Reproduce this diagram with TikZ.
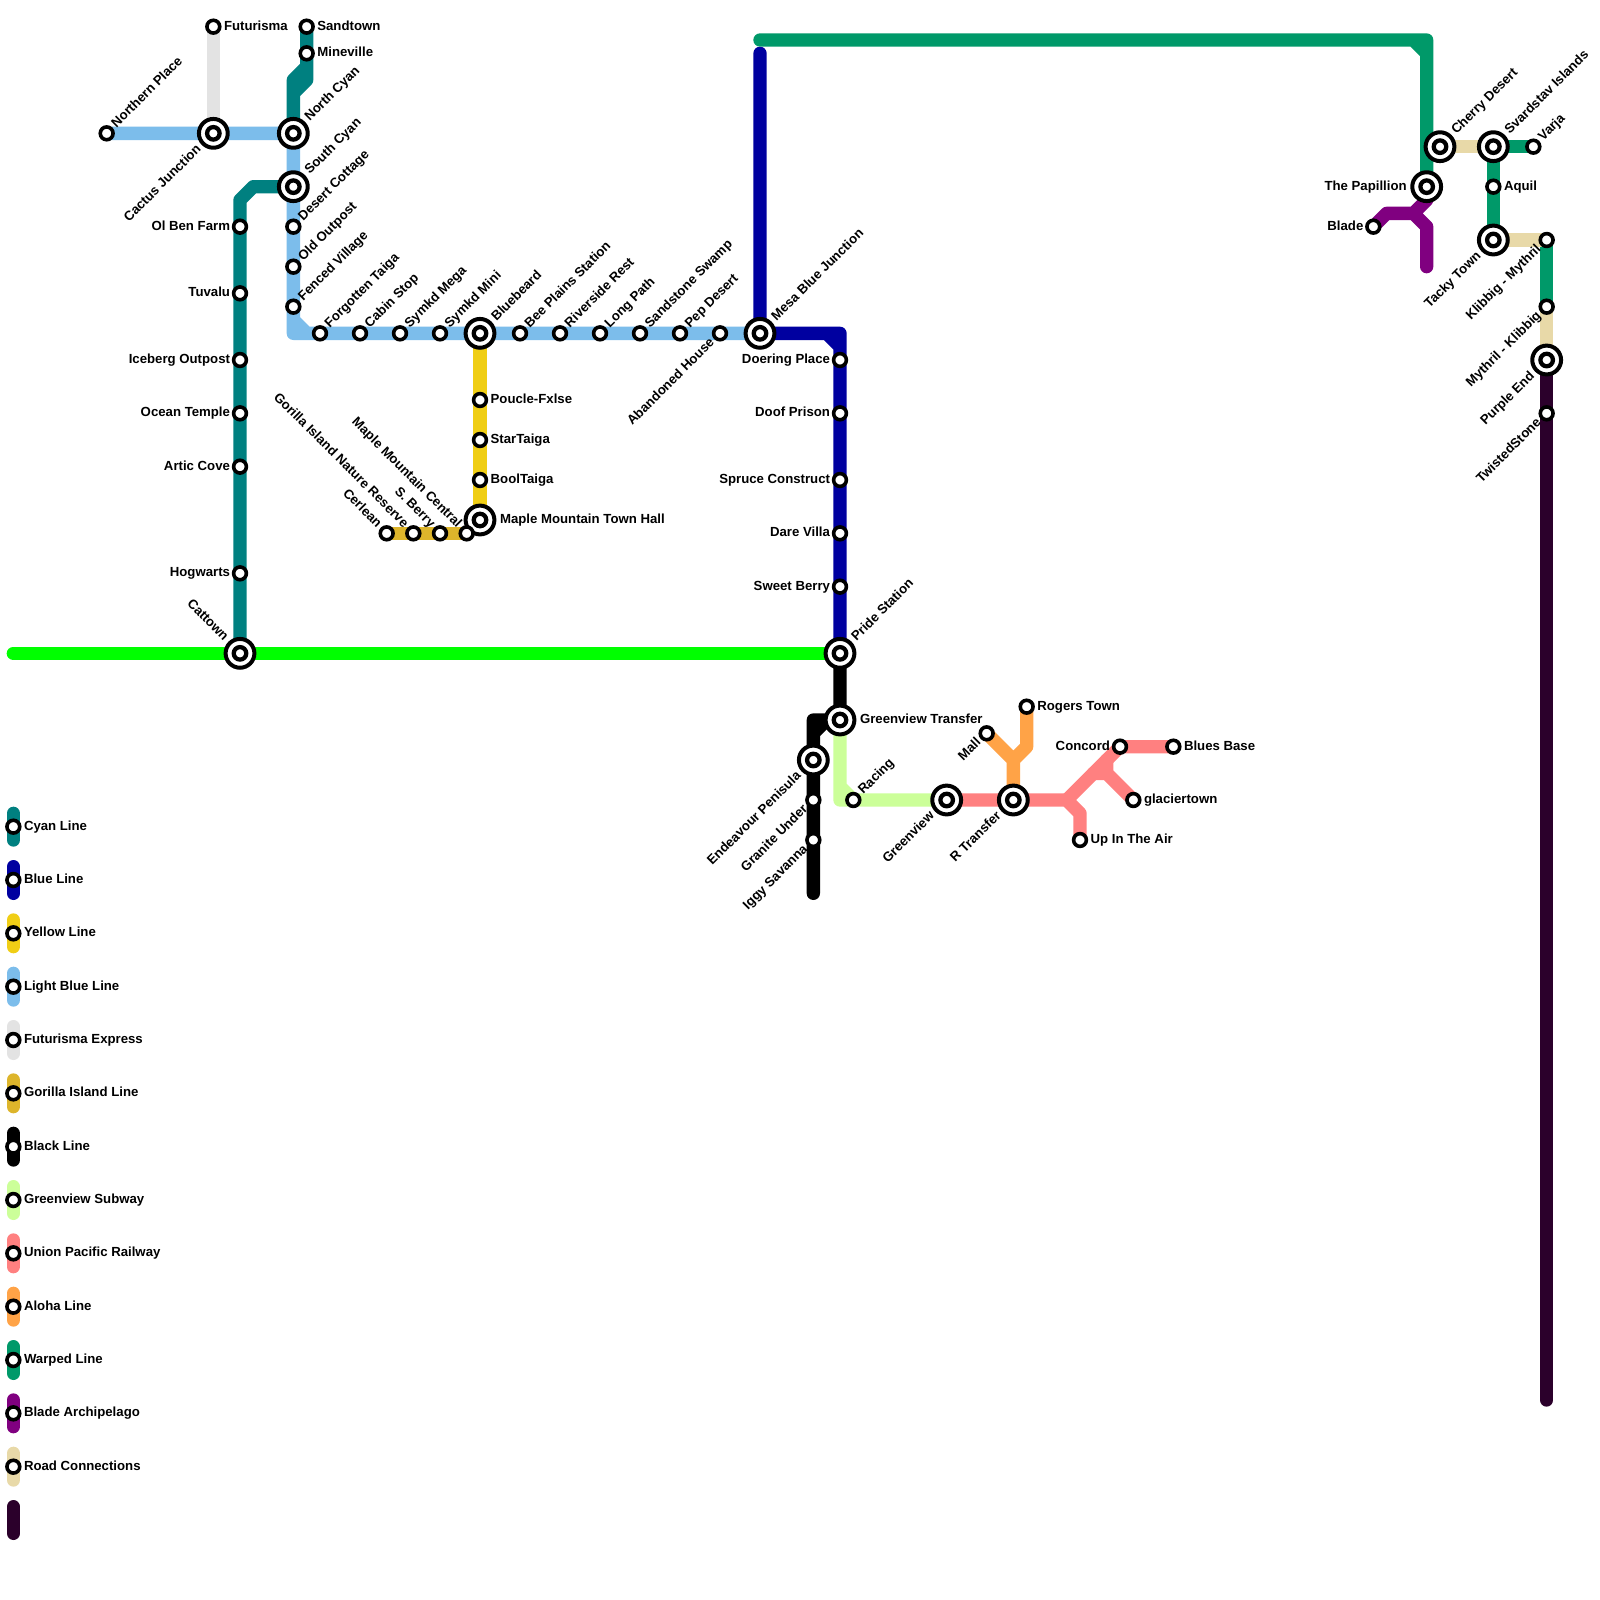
\documentclass[tikz,border=0pt]{standalone}
\usepackage{fontspec}
\setmainfont{Liberation Sans}
\usetikzlibrary{backgrounds}
\definecolor{cCyan}{HTML}{008080}
\definecolor{cBlue}{HTML}{0000A0}
\definecolor{cYellow}{HTML}{F0CE15}
\definecolor{cLight}{HTML}{7CBDEB}
\definecolor{cGrey}{HTML}{E3E3E3}
\definecolor{cGorilla}{HTML}{DDB52B}
\definecolor{cBlack}{HTML}{000000}
\definecolor{cSub}{HTML}{CCFF99}
\definecolor{cPink}{HTML}{FF8080}
\definecolor{cOrange}{HTML}{FFA347}
\definecolor{cWarp}{HTML}{009969}
\definecolor{cBlade}{HTML}{800080}
\definecolor{cRoad}{HTML}{E8D9A8}
\definecolor{cDark}{HTML}{2B002B}
\definecolor{cLime}{HTML}{00FF00}
\tikzset{
  ln/.style={line width=10pt,line cap=round,line join=round},
  smallst/.style={circle,draw=black,fill=white,line width=2.7pt,minimum size=9.6pt,inner sep=0pt},
  bigst/.style={circle,draw=black,fill=white,line width=3pt,minimum size=21.6pt,inner sep=0pt},
  innerst/.style={circle,draw=black,fill=white,line width=3.2pt,minimum size=9.4pt,inner sep=0pt},
  lbl/.style={inner sep=0pt,outer sep=0pt,font=\fontsize{9.9}{12}\selectfont\bfseries,text=black},
  rs/.style={lbl,anchor=base west,xshift=8pt,yshift=-2.6pt},
  rb/.style={lbl,anchor=base west,xshift=15pt,yshift=-2.6pt},
  ls/.style={lbl,anchor=base east,xshift=-7.5pt,yshift=-2.6pt},
  lb/.style={lbl,anchor=base east,xshift=-15pt,yshift=-2.6pt},
  nes/.style={lbl,rotate=45,anchor=base west,xshift=8pt,yshift=-2.6pt},
  neb/.style={lbl,rotate=45,anchor=base west,xshift=15pt,yshift=-2.6pt},
  sws/.style={lbl,rotate=45,anchor=base east,xshift=-8pt,yshift=-2.6pt},
  swb/.style={lbl,rotate=45,anchor=base east,xshift=-15pt,yshift=-2.6pt},
  nws/.style={lbl,rotate=-45,anchor=base east,xshift=-8pt,yshift=-2.6pt},
  nwb/.style={lbl,rotate=-45,anchor=base east,xshift=-15pt,yshift=-2.6pt},
}
% small station with label: name, x, y, label style, text
\newcommand\sst[5]{\node[smallst] (#1) at (#2,#3) {}; \node[#4] (#1-l) at (#1.center) {#5};}
% interchange with label
\newcommand\bst[5]{\node[bigst] (#1) at (#2,#3) {}; \node[innerst] (#1-i) at (#1.center) {}; \node[#4] (#1-l) at (#1.center) {#5};}
\begin{document}
\begin{tikzpicture}[x=10pt,y=-10pt]
\useasboundingbox (0,0) rectangle (120,120);
\begin{scope}[on background layer]
  \fill[white] (0,0) rectangle (120,120);
\end{scope}
% stations
\sst{futurisma}{16}{2}{rs}{Futurisma}
\sst{sandtown}{23}{2}{rs}{Sandtown}
\sst{mineville}{23}{4}{rs}{Mineville}
\sst{northern}{8}{10}{nes}{Northern Place}
\bst{cactus}{16}{10}{swb}{Cactus Junction}
\bst{ncyan}{22}{10}{neb}{North Cyan}
\bst{scyan}{22}{14}{neb}{South Cyan}
\sst{olben}{18}{17}{ls}{Ol Ben Farm}
\sst{tuvalu}{18}{22}{ls}{Tuvalu}
\sst{iceberg}{18}{27}{ls}{Iceberg Outpost}
\sst{ocean}{18}{31}{ls}{Ocean Temple}
\sst{artic}{18}{35}{ls}{Artic Cove}
\sst{hogwarts}{18}{43}{ls}{Hogwarts}
\bst{cattown}{18}{49}{nwb}{Cattown}
\sst{desert}{22}{17}{nes}{Desert Cottage}
\sst{oldout}{22}{20}{nes}{Old Outpost}
\sst{fenced}{22}{23}{nes}{Fenced Village}
\sst{forgotten}{24}{25}{nes}{Forgotten Taiga}
\sst{cabin}{27}{25}{nes}{Cabin Stop}
\sst{smega}{30}{25}{nes}{Symkd Mega}
\sst{smini}{33}{25}{nes}{Symkd Mini}
\bst{bluebeard}{36}{25}{neb}{Bluebeard}
\sst{bee}{39}{25}{nes}{Bee Plains Station}
\sst{riverside}{42}{25}{nes}{Riverside Rest}
\sst{longpath}{45}{25}{nes}{Long Path}
\sst{sandstone}{48}{25}{nes}{Sandstone Swamp}
\sst{pep}{51}{25}{nes}{Pep Desert}
\sst{abandoned}{54}{25}{sws}{Abandoned House}
\bst{mesa}{57}{25}{neb}{Mesa Blue Junction}
\sst{doering}{63}{27}{ls}{Doering Place}
\sst{doof}{63}{31}{ls}{Doof Prison}
\sst{spruce}{63}{36}{ls}{Spruce Construct}
\sst{dare}{63}{40}{ls}{Dare Villa}
\sst{sweet}{63}{44}{ls}{Sweet Berry}
\bst{pride}{63}{49}{neb}{Pride Station}
\bst{gtransfer}{63}{54}{rb}{Greenview Transfer}
\bst{endeavour}{61}{57}{swb}{Endeavour Penisula}
\sst{granite}{61}{60}{sws}{Granite Under}
\sst{iggy}{61}{63}{sws}{Iggy Savanna}
\sst{racing}{64}{60}{nes}{Racing}
\bst{greenview}{71}{60}{swb}{Greenview}
\bst{rtransfer}{76}{60}{swb}{R Transfer}
\sst{mall}{74}{55}{sws}{Mall}
\sst{rogers}{77}{53}{rs}{Rogers Town}
\sst{concord}{84}{56}{ls}{Concord}
\sst{blues}{88}{56}{rs}{Blues Base}
\sst{glacier}{85}{60}{rs}{glaciertown}
\sst{upair}{81}{63}{rs}{Up In The Air}
\sst{poucle}{36}{30}{rs}{Poucle-Fxlse}
\sst{startaiga}{36}{33}{rs}{StarTaiga}
\sst{booltaiga}{36}{36}{rs}{BoolTaiga}
\bst{maplehall}{36}{39}{rb}{Maple Mountain Town Hall}
\sst{maplec}{35}{40}{nws}{Maple Mountain Central}
\sst{sberry}{33}{40}{nws}{S. Berry}
\sst{gorilla}{31}{40}{nws}{Gorilla Island Nature Reserve}
\sst{cerlean}{29}{40}{nws}{Cerlean}
\bst{papillion}{107}{14}{lb}{The Papillion}
\bst{cherry}{108}{11}{neb}{Cherry Desert}
\bst{svardstav}{112}{11}{neb}{Svardstav Islands}
\sst{varja}{115}{11}{nes}{Varja}
\sst{aquil}{112}{14}{rs}{Aquil}
\bst{tacky}{112}{18}{swb}{Tacky Town}
\sst{klib}{116}{18}{sws}{Klibbig - Mythril}
\sst{myth}{116}{23}{sws}{Mythril - Klibbig}
\bst{purple}{116}{27}{swb}{Purple End}
\sst{twisted}{116}{31}{sws}{TwistedStone}
\sst{blade}{103}{17}{ls}{Blade}
% waypoints
\coordinate (cy1) at (22,6); \coordinate (cy2) at (23,5); \coordinate (cy3) at (22,7); \coordinate (cy4) at (23,6);
\coordinate (cy5) at (18,15); \coordinate (cy6) at (19,14);
\coordinate (lb1) at (22,25); \coordinate (lb2) at (22,24); \coordinate (lb3) at (23,25);
\coordinate (bl1) at (57,4); \coordinate (bl2) at (63,25); \coordinate (bl3) at (62,25); \coordinate (bl4) at (63,26);
\coordinate (gr1) at (1,49);
\coordinate (bk1) at (61,54); \coordinate (bk2) at (61,67); \coordinate (bk3) at (61,55); \coordinate (bk4) at (62,54);
\coordinate (sb1) at (63,60); \coordinate (sb2) at (63,59);
\coordinate (pk1) at (80,60); \coordinate (pk2) at (81,61); \coordinate (pk3) at (82,58); \coordinate (pk4) at (83,58); \coordinate (pk5) at (83,57);
\coordinate (or1) at (76,57); \coordinate (or2) at (77,56);
\coordinate (wp1) at (57,3); \coordinate (wp2) at (107,3); \coordinate (wp3) at (106,3); \coordinate (wp4) at (107,4);
\coordinate (bd1) at (104,16); \coordinate (bd2) at (106,16); \coordinate (bd3) at (107,15); \coordinate (bd4) at (107,17); \coordinate (bd5) at (107,20);
\coordinate (dk1) at (116,105);
% legend
\foreach \i/\y/\c/\t in {1/62/cCyan/Cyan Line,2/66/cBlue/Blue Line,3/70/cYellow/Yellow Line,4/74/cLight/Light Blue Line,5/78/cGrey/Futurisma Express,6/82/cGorilla/Gorilla Island Line,7/86/cBlack/Black Line,8/90/cSub/Greenview Subway,9/94/cPink/Union Pacific Railway,10/98/cOrange/Aloha Line,11/102/cWarp/Warped Line,12/106/cBlade/Blade Archipelago,13/110/cRoad/Road Connections}{
  \sst{L\i}{1}{\y}{rs}{\t}
  \coordinate (Lt\i) at (1,\y-1);
  \coordinate (Lb\i) at (1,\y+1);
  \begin{scope}[on background layer]
    \draw[ln,\c] (Lt\i) -- (Lb\i);
  \end{scope}
}
\coordinate (Lt14) at (1,113); \coordinate (Lb14) at (1,115);
\begin{scope}[on background layer]
  \draw[ln,cDark] (Lt14) -- (Lb14);
  \draw[ln,cGrey] (futurisma.center) -- (cactus.center);
  \draw[ln,cLight] (northern.center) -- (ncyan.center) -- (lb1) -- (mesa.center) (lb2) -- (lb3);
  \draw[ln,cCyan] (sandtown.center) -- (cy2) -- (cy1) -- (ncyan.center) (cy3) -- (cy4) -- (cy2);
  \draw[ln,cCyan] (cattown.center) -- (cy5) -- (cy6) -- (scyan.center);
  \draw[ln,cYellow] (bluebeard.center) -- (maplehall.center);
  \draw[ln,cGorilla] (cerlean.center) -- (maplec.center);
  \draw[ln,cBlue] (bl1) -- (mesa.center) -- (bl2) -- (pride.center) (bl3) -- (bl4);
  \draw[ln,cLime] (gr1) -- (pride.center);
  \draw[ln,cSub] (gtransfer.center) -- (sb1) -- (greenview.center) (sb2) -- (racing.center);
  \draw[ln,cBlack] (pride.center) -- (gtransfer.center) -- (bk1) -- (bk2) (bk3) -- (bk4);
  \draw[ln,cPink] (greenview.center) -- (pk1) -- (pk2) -- (upair.center);
  \draw[ln,cPink] (pk1) -- (concord.center) -- (blues.center);
  \draw[ln,cPink] (pk3) -- (pk4) -- (glacier.center) (pk5) -- (pk4);
  \draw[ln,cOrange] (mall.center) -- (or1) -- (rtransfer.center) (rogers.center) -- (or2) -- (or1);
  \draw[ln,cWarp] (wp1) -- (wp2) -- (papillion.center) (wp3) -- (wp4);
  \draw[ln,cWarp] (svardstav.center) -- (varja.center) (svardstav.center) -- (tacky.center);
  \draw[ln,cWarp] (klib.center) -- (myth.center);
  \draw[ln,cRoad] (cherry.center) -- (svardstav.center) (tacky.center) -- (klib.center) (myth.center) -- (purple.center);
  \draw[ln,cBlade] (blade.center) -- (bd1) -- (bd2) -- (bd3) -- (papillion.center) (bd2) -- (bd4) -- (bd5);
  \draw[ln,cDark] (purple.center) -- (dk1);
\end{scope}
\end{tikzpicture}
\end{document}
